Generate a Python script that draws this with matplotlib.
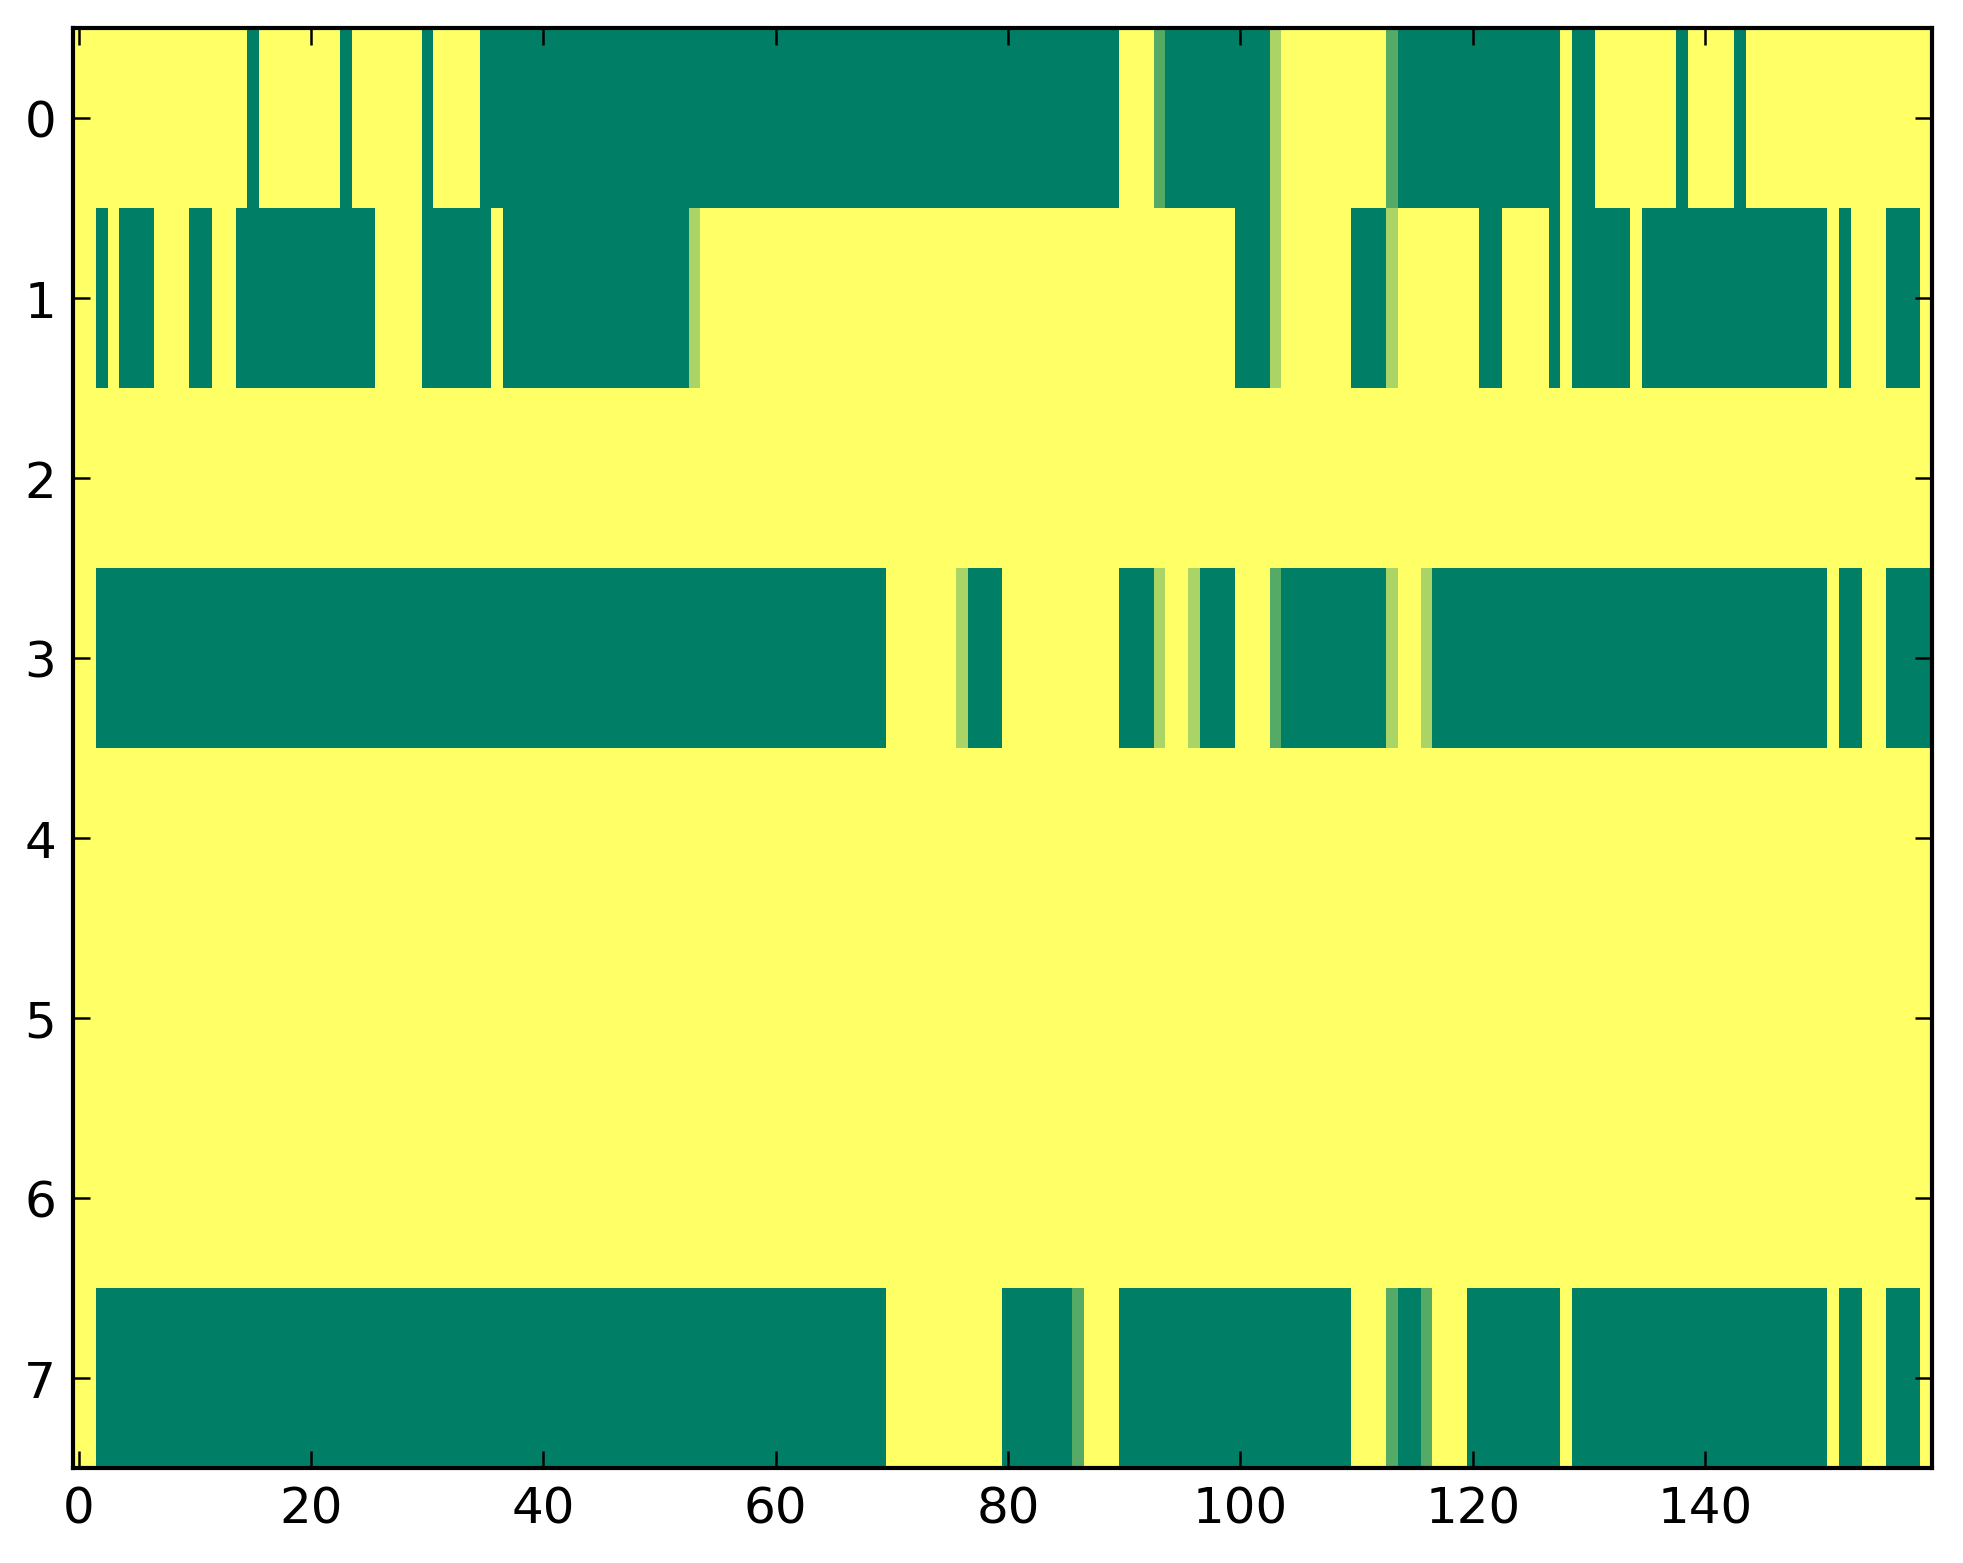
import numpy as np
import matplotlib
matplotlib.use("Agg")
import matplotlib.pyplot as plt

# Cell levels per row: 0 = 0, 1 = 1/3, 2 = 2/3, 3 = 1  (160 columns each)
row0 = ("0000000000" "0000030000" "0003000000" "3000033333" "3333333333"
        "3333333333" "3333333333" "3333333333" "3333333333" "0002333333"
        "3331000000" "0002333333" "3333333303" "3000000030" "0003000000"
        "0000000000")
row1 = ("0030333000" "3300333333" "3333330000" "3333330333" "3333333333"
        "3331000000" "0000000000" "0000000000" "0000000000" "0000000000"
        "3331000000" "3331000000" "0330000303" "3333033333" "3333333333"
        "3030003330")
row2 = "0" * 160
row3 = ("0033333333" "3333333333" "3333333333" "3333333333" "3333333333"
        "3333333333" "3333333333" "0000001333" "0000000000" "3331001333"
        "0002333333" "3331001333" "3333333333" "3333333333" "3333333333"
        "3033003333")
row4 = "0" * 160
row5 = "0" * 160
row6 = "0" * 160
row7 = ("0033333333" "3333333333" "3333333333" "3333333333" "3333333333"
        "3333333333" "3333333333" "0000000000" "3333332000" "3333333333"
        "3333333333" "0002332000" "3333333303" "3333333333" "3333333333"
        "3033003330")

levels = [0.0, 1 / 3, 2 / 3, 1.0]
rows = [row0, row1, row2, row3, row4, row5, row6, row7]
data = np.array([[levels[int(c)] for c in r] for r in rows])

xticks = [0, 20, 40, 60, 80, 100, 120, 140]
yticks = [0, 1, 2, 3, 4, 5, 6, 7]

plt.rcParams['font.family'] = ['DejaVu Sans']

W, H, DPI = 1963, 1564, 300
fig = plt.figure(figsize=(W / DPI, H / DPI), dpi=DPI, facecolor='white')
left, right, top, bottom = 72.7, 1931.7, 29, 1469
ax = fig.add_axes([left / W, 1 - bottom / H, (right - left) / W, (bottom - top) / H])
ax.imshow(data, cmap='summer_r', aspect='auto', interpolation='nearest',
          vmin=0, vmax=1)
ax.set_xticks(xticks)
ax.set_yticks(yticks)
ax.set_xlim(-0.5, data.shape[1] - 0.5)
ax.set_ylim(data.shape[0] - 0.5, -0.5)
ax.tick_params(direction='in', top=True, right=True, length=4, width=0.6,
               labelsize=12, pad=4)
for s in ax.spines.values():
    s.set_linewidth(1.0)

fig.savefig('out.png', dpi=DPI, facecolor='white')
